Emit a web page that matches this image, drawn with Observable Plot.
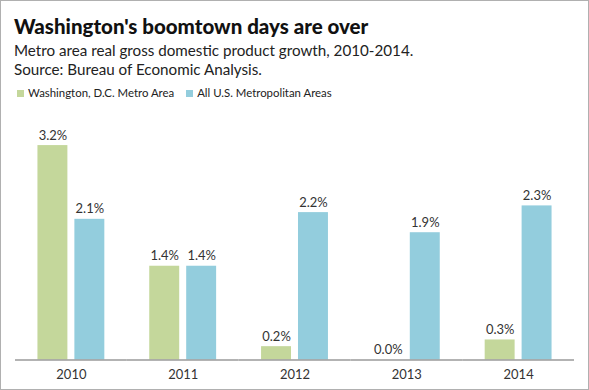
<!DOCTYPE html>
<html>
<head>
<meta charset="utf-8">
<script src="https://cdn.jsdelivr.net/npm/d3@7"></script>
<script src="https://cdn.jsdelivr.net/npm/@observablehq/plot@0.6"></script>
<style>
  html, body { margin: 0; padding: 0; background: #fff; }
  #frame { position: relative; width: 587px; height: 388px; border: 1px solid #b0b0b0; overflow: hidden; font-family: Lato, "Noto Sans", sans-serif; color: #222; }
  #title { position: absolute; left: 13px; top: 13px; font-size: 20.5px; font-weight: 900; color: #111; white-space: nowrap; line-height: normal; }
  .sub { position: absolute; left: 13px; font-size: 15.2px; color: #222; white-space: nowrap; line-height: normal; }
  #legend { position: absolute; left: 16px; top: 85px; font-size: 11.4px; color: #222; display: flex; gap: 12px; white-space: nowrap; line-height: normal; }
  #legend span.sw { display: inline-block; width: 7px; height: 7px; margin-right: 4px; vertical-align: 0px; }
  #chart { position: absolute; left: -1px; top: 109px; }
</style>
</head>
<body>
<div id="frame">
  <div id="title">Washington's boomtown days are over</div>
  <div class="sub" style="top:40px">Metro area real gross domestic product growth, 2010-2014.</div>
  <div class="sub" style="top:59px">Source: Bureau of Economic Analysis.</div>
  <div id="legend"></div>
  <div id="chart"></div>
</div>
<script>
const years = ["2010", "2011", "2012", "2013", "2014"];
const seriesNames = ["Washington, D.C. Metro Area", "All U.S. Metropolitan Areas"];
const washington = [3.2, 1.4, 0.2, 0.0, 0.3];
const allMetro = [2.1, 1.4, 2.2, 1.9, 2.3];
const colors = ["#c4d79b", "#93cddd"];

const rows = [];
years.forEach((yr, i) => {
  rows.push({year: yr, series: seriesNames[0], value: washington[i]});
  rows.push({year: yr, series: seriesNames[1], value: allMetro[i]});
});

const legend = document.getElementById("legend");
seriesNames.forEach((s, i) => {
  const d = document.createElement("div");
  d.innerHTML = `<span class="sw" style="background:${colors[i]}"></span>${s}`;
  legend.appendChild(d);
});

const chart = Plot.plot({
  width: 589,
  height: 281,
  marginLeft: 14.5,
  marginRight: 14.5,
  marginTop: 15,
  marginBottom: 31,
  style: {fontFamily: "Lato, 'Noto Sans', sans-serif", fontSize: "13px", color: "#333", background: "transparent"},
  fx: {domain: years, padding: 0, label: null, axis: "bottom", tickSize: 0, tickPadding: 10, fontSize: 13},
  x: {domain: seriesNames, paddingInner: 7/37, paddingOuter: 0.608, axis: null},
  y: {domain: [0, 3.5], axis: null},
  color: {domain: seriesNames, range: colors},
  marks: [
    Plot.barY(rows, {fx: "year", x: "series", y: "value", fill: "series"}),
    Plot.ruleY([0], {stroke: "#9a9a9a", strokeWidth: 1.5}),
    Plot.text(rows, {fx: "year", x: "series", y: "value", text: d => d.value.toFixed(1) + "%", lineAnchor: "bottom", dy: -6, fill: "#333", fontSize: 13})
  ]
});
document.getElementById("chart").appendChild(chart);
</script>
</body>
</html>
